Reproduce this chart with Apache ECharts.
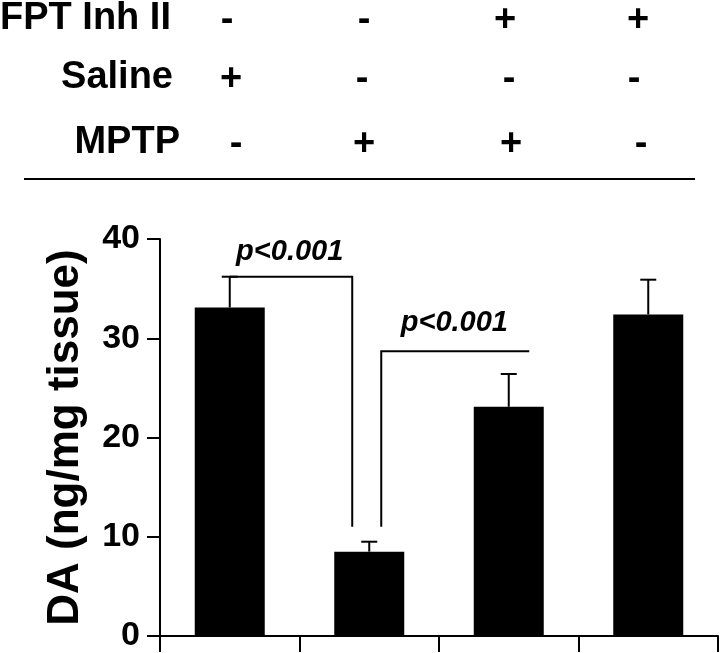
<!DOCTYPE html>
<html>
<head>
<meta charset="utf-8">
<script src="https://cdn.jsdelivr.net/npm/echarts@6/dist/echarts.min.js"></script>
<style>
html,body{margin:0;padding:0;background:#fff;}
#main{width:720px;height:653px;}
</style>
</head>
<body>
<div id="main"></div>
<script>
// ---- data ----
var categories = ['Saline', 'MPTP', 'MPTP + FPT Inh II', 'FPT Inh II'];
var meanValues = [33.1, 8.5, 23.1, 32.4];
var errorValues = [3.1, 1.0, 3.3, 3.5];
var yTicks = [0, 10, 20, 30, 40];
var rowLabels = ['FPT Inh II', 'Saline', 'MPTP'];
var fptRow = ['-', '-', '+', '+'];
var salineRow = ['+', '-', '-', '-'];
var mptpRow = ['-', '+', '+', '-'];
// significance brackets (x as category index, y as data value)
var bracket1 = [[0, 36.2], [0.878, 36.2], [0.878, 11.0]];
var bracket2 = [[1.086, 11.0], [1.086, 28.7], [2.147, 28.7]];
var pLabels = [[0.43, 38.7, 'p<0.001'], [1.61, 31.5, 'p<0.001']];

var FONT = '"Liberation Sans", Arial, Helvetica, sans-serif';
var chart = echarts.init(document.getElementById('main'), null, {renderer: 'canvas'});

// table layout
var rowY = [19, 78, 143];
var colX = [
  [227, 364, 505, 638],
  [231, 362, 509, 634],
  [236, 364, 511, 641]
];
var rows = [fptRow, salineRow, mptpRow];
var graphics = [];
graphics.push({type: 'text', x: 0, y: rowY[0], style: {text: rowLabels[0], font: 'bold 38px ' + FONT, fill: '#000', align: 'left', verticalAlign: 'middle'}});
graphics.push({type: 'text', x: 173, y: rowY[1], style: {text: rowLabels[1], font: 'bold 38px ' + FONT, fill: '#000', align: 'right', verticalAlign: 'middle'}});
graphics.push({type: 'text', x: 180, y: rowY[2], style: {text: rowLabels[2], font: 'bold 38px ' + FONT, fill: '#000', align: 'right', verticalAlign: 'middle'}});
rows.forEach(function (r, ri) {
  r.forEach(function (s, ci) {
    graphics.push({type: 'text', x: colX[ri][ci], y: rowY[ri] + 2, style: {text: s, font: 'bold 38px ' + FONT, fill: '#000', align: 'center', verticalAlign: 'middle'}});
  });
});
graphics.push({type: 'line', shape: {x1: 24, y1: 179, x2: 695, y2: 179}, style: {stroke: '#000', lineWidth: 2}});

var brackets = [bracket1, bracket2];

// map a (possibly fractional) category index + value to pixels
function toPx(api, p) {
  var base = api.coord([0, p[1]]);
  var band = api.size([1, 0])[0];
  return [base[0] + p[0] * band, base[1]];
}

var option = {
  animation: false,
  backgroundColor: '#fff',
  grid: {left: 160, right: 2, top: 239, bottom: 14, containLabel: false},
  xAxis: {
    type: 'category',
    data: categories,
    axisLine: {lineStyle: {color: '#000', width: 2}},
    axisTick: {show: true, length: 16, lineStyle: {color: '#000', width: 2}},
    axisLabel: {show: false},
    splitLine: {show: false}
  },
  yAxis: {
    type: 'value', min: yTicks[0], max: yTicks[yTicks.length - 1], interval: 10,
    name: 'DA (ng/mg tissue)',
    nameLocation: 'middle', nameRotate: 90, nameGap: 72,
    nameTextStyle: {fontFamily: FONT, fontWeight: 'bold', fontSize: 44, color: '#000'},
    axisLine: {show: true, lineStyle: {color: '#000', width: 2}},
    axisTick: {show: true, length: 13, lineStyle: {color: '#000', width: 2}},
    axisLabel: {fontFamily: FONT, fontWeight: 'bold', fontSize: 34, color: '#000', margin: 20},
    splitLine: {show: false}
  },
  graphic: graphics,
  series: [
    {
      type: 'bar', data: meanValues, barWidth: 70,
      itemStyle: {color: '#000'}
    },
    {
      type: 'custom',
      data: meanValues.map(function (m, i) { return [i, m, m + errorValues[i]]; }),
      renderItem: function (params, api) {
        var p0 = api.coord([api.value(0), api.value(1)]);
        var p1 = api.coord([api.value(0), api.value(2)]);
        var hw = 8;
        return {type: 'group', children: [
          {type: 'line', shape: {x1: p0[0], y1: p0[1], x2: p1[0], y2: p1[1]}, style: {stroke: '#000', lineWidth: 2}},
          {type: 'line', shape: {x1: p1[0] - hw, y1: p1[1], x2: p1[0] + hw, y2: p1[1]}, style: {stroke: '#000', lineWidth: 2}}
        ]};
      },
      z: 3
    },
    {
      type: 'custom',
      data: brackets.map(function (b, i) { return [i, b[0][1]]; }),
      renderItem: function (params, api) {
        var b = brackets[params.dataIndex];
        var pts = b.map(function (p) { return toPx(api, p); });
        var pl = pLabels[params.dataIndex];
        var tp = toPx(api, pl);
        return {type: 'group', children: [
          {type: 'polyline', shape: {points: pts}, style: {stroke: '#000', lineWidth: 2, fill: null}},
          {type: 'text', x: tp[0], y: tp[1], style: {text: pl[2], font: 'italic bold 29px ' + FONT, fill: '#000', align: 'center', verticalAlign: 'middle'}}
        ]};
      },
      z: 4
    }
  ]
};
chart.setOption(option);
</script>
</body>
</html>
